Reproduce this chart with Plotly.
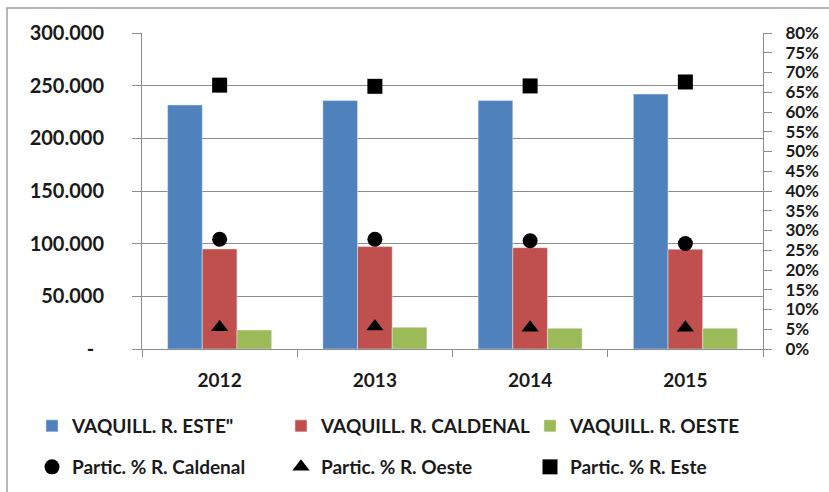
import plotly.graph_objects as go

years = ["2012", "2013", "2014", "2015"]
vaq_este = [231700, 235800, 235800, 242000]
vaq_caldenal = [95000, 97200, 96200, 94700]
vaq_oeste = [18000, 20600, 19600, 19600]
pct_caldenal = [0.278, 0.278, 0.274, 0.267]
pct_oeste = [0.055, 0.057, 0.054, 0.054]
pct_este = [0.668, 0.665, 0.666, 0.676]

left_tickvals = [0, 50000, 100000, 150000, 200000, 250000, 300000]
left_ticktext = ["-\u00a0\u00a0", "50.000", "100.000", "150.000", "200.000", "250.000", "300.000"]

FONT = "Lato, Noto Sans, sans-serif"
TXT = "#1a1a1a"
GRID = "#8c8c8c"
W, H = 829, 492
L, R, T, B = 142, 66, 33, 143
pw, ph = W - L - R, H - T - B

fig = go.Figure()
fig.add_bar(x=years, y=vaq_este, name='VAQUILL. R. ESTE"', marker_color="#4F81BD", legend="legend")
fig.add_bar(x=years, y=vaq_caldenal, name="VAQUILL. R. CALDENAL", marker_color="#C0504D", legend="legend")
fig.add_bar(x=years, y=vaq_oeste, name="VAQUILL. R. OESTE", marker_color="#9BBB59", legend="legend")
fig.add_scatter(x=years, y=pct_caldenal, name="Partic. % R. Caldenal", mode="markers", yaxis="y2",
                marker=dict(symbol="circle", size=15, color="black"), legend="legend2")
fig.add_scatter(x=years, y=pct_oeste, name="Partic. % R. Oeste", mode="markers", yaxis="y2",
                marker=dict(symbol="triangle-up", size=15, color="black"), legend="legend2")
fig.add_scatter(x=years, y=pct_este, name="Partic. % R. Este", mode="markers", yaxis="y2",
                marker=dict(symbol="square", size=15, color="black"), legend="legend2")

legend_common = dict(orientation="h", xanchor="left", yanchor="middle",
                     font=dict(family=FONT, size=19, color=TXT, weight="bold"),
                     entrywidth=204, entrywidthmode="pixels", bgcolor="rgba(0,0,0,0)",
                     itemclick=False, traceorder="normal")

fig.update_layout(
    width=W, height=H,
    margin=dict(l=L, r=R, t=T, b=B, pad=0, autoexpand=False),
    paper_bgcolor="white", plot_bgcolor="white",
    separators=",.",
    barmode="group", bargap=0.33, bargroupgap=0,
    font=dict(family=FONT, color=TXT),
    xaxis=dict(showline=True, linecolor=GRID, linewidth=1, ticks="outside", tickson="boundaries",
               ticklen=7, tickcolor=GRID, showgrid=False,
               tickfont=dict(family=FONT, size=19, color=TXT, weight="bold"),
               ticklabelstandoff=14),
    yaxis=dict(range=[0, 300000], tickvals=left_tickvals, ticktext=left_ticktext,
               showline=True, linecolor=GRID, linewidth=1, ticks="outside", ticklen=9, tickcolor=GRID,
               showgrid=True, gridcolor=GRID, gridwidth=1, zeroline=False,
               tickfont=dict(family=FONT, size=20, color=TXT, weight="bold"),
               ticklabelstandoff=24),
    yaxis2=dict(range=[0, 0.8], dtick=0.05, tick0=0, tickformat=".0%", overlaying="y", side="right",
                showline=True, linecolor=GRID, linewidth=1, ticks="outside", ticklen=8, tickcolor=GRID,
                showgrid=False, zeroline=False,
                tickfont=dict(family=FONT, size=17, color=TXT, weight="bold"),
                ticklabelstandoff=10),
    legend=dict(x=(32 - L) / pw, y=(H - B - 426) / ph, **legend_common),
    legend2=dict(x=(32 - L) / pw, y=(H - B - 467) / ph, **legend_common),
    shapes=[dict(type="rect", xref="paper", yref="paper",
                 x0=(7 - L) / pw, x1=(W + 10 - L) / pw,
                 y0=(H - B - (H + 10)) / ph, y1=(H - B - 8) / ph,
                 line=dict(color="#a0a0a0", width=1.5), fillcolor="rgba(0,0,0,0)", layer="below")],
)

fig.write_html("out.html", config={"displayModeBar": False},
               post_script="document.body.style.margin='0';document.body.style.overflow='hidden';")
